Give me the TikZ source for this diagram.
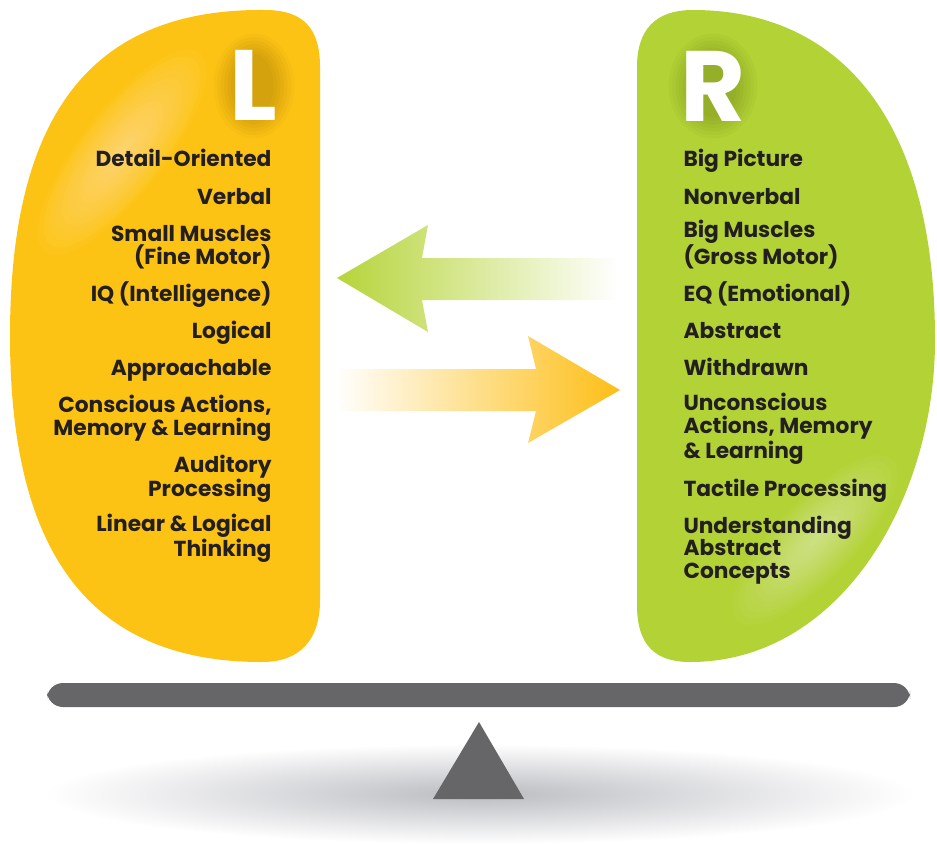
\documentclass[tikz,border=0pt]{standalone}
\usepackage{fontspec}
\setmainfont{Poppins}
\usepackage{tikz}
\tikzset{every picture/.style={line width=0.75pt}}
\definecolor{lobeL}{RGB}{253,195,20}
\definecolor{lobeR}{RGB}{179,210,53}
\definecolor{inkA}{RGB}{35,31,32}
\definecolor{beamA}{RGB}{102,102,104}
\definecolor{groundA}{RGB}{186,188,193}
\definecolor{arrowG}{RGB}{182,212,58}
\definecolor{arrowY}{RGB}{253,190,22}
\tikzset{
  traitL/.style={anchor=base east, align=right, inner sep=0pt, text=inkA, font=\fontsize{16.3}{16.9}\selectfont\bfseries},
  traitR/.style={anchor=base west, align=left, inner sep=0pt, text=inkA, font=\fontsize{16.3}{16.9}\selectfont\bfseries},
  sideletter/.style={anchor=base west, inner sep=0pt, text=white, font=\fontsize{75}{75}\selectfont\bfseries},
}

\begin{document}
\begin{tikzpicture}[x=0.75pt,y=0.75pt,yscale=-1,xscale=1]
\useasboundingbox (0,0) rectangle (937,844);
% left lobe
\fill[lobeL] (320,600) -- (320,67) .. controls (320,30) and (305,10) .. (265,10) .. controls (80,8) and (10,130) .. (10,336) .. controls (10,540) and (80,662) .. (262,662) .. controls (300,662) and (320,640) .. (320,600) -- cycle ;
\begin{scope}
\clip (320,600) -- (320,67) .. controls (320,30) and (305,10) .. (265,10) .. controls (80,8) and (10,130) .. (10,336) .. controls (10,540) and (80,662) .. (262,662) .. controls (300,662) and (320,640) .. (320,600) -- cycle ;
\foreach \k in {1,...,14}
  \fill[white, opacity=0.035, rotate around={-52:(122,152)}] (122,152) ellipse [x radius=9*\k, y radius=3*\k];
\foreach \k in {1,...,7}
  \fill[black, opacity=0.022] (254,86) ellipse [x radius=16+3.5*\k, y radius=28+3.5*\k];
\end{scope}
% right lobe
\fill[lobeR] (637,67) -- (637,605) .. controls (637,645) and (655,662) .. (690,662) .. controls (840,662) and (935,500) .. (935,340) .. controls (935,110) and (833,10) .. (693,10) .. controls (655,10) and (637,30) .. (637,67) -- cycle ;
\begin{scope}
\clip (637,67) -- (637,605) .. controls (637,645) and (655,662) .. (690,662) .. controls (840,662) and (935,500) .. (935,340) .. controls (935,110) and (833,10) .. (693,10) .. controls (655,10) and (637,30) .. (637,67) -- cycle ;
\foreach \k in {1,...,14}
  \fill[white, opacity=0.035, rotate around={-46:(815,540)}] (815,540) ellipse [x radius=8*\k, y radius=2.8*\k];
\foreach \k in {1,...,7}
  \fill[black, opacity=0.022] (713,86) ellipse [x radius=20+3.5*\k, y radius=28+3.5*\k];
\end{scope}
% letters
\draw (229,120) node (letL) [sideletter] {L};
\draw (680,121) node (letR) [sideletter] {R};
% left traits (anchored on the last line)
\draw (272,166) node (tl1) [traitL] {Detail-Oriented};
\draw (272,204) node (tl2) [traitL] {Verbal};
\draw (272,264.2) node (tl3) [traitL] {Small Muscles\\(Fine Motor)};
\draw (272,301.7) node (tl4) [traitL] {IQ (Intelligence)};
\draw (272,338.5) node (tl5) [traitL] {Logical};
\draw (272,375.7) node (tl6) [traitL] {Approachable};
\draw (272,435.5) node (tl7) [traitL] {Conscious Actions,\\Memory \& Learning};
\draw (272,496.5) node (tl8) [traitL] {Auditory\\Processing};
\draw (272,556.5) node (tl9) [traitL] {Linear \& Logical\\Thinking};
% right traits (anchored on the last line)
\draw (683,166) node (tr1) [traitR] {Big Picture};
\draw (683,204) node (tr2) [traitR] {Nonverbal};
\draw (683,264.2) node (tr3) [traitR] {Big Muscles\\(Gross Motor)};
\draw (683,301.7) node (tr4) [traitR] {EQ (Emotional)};
\draw (683,338.5) node (tr5) [traitR] {Abstract};
\draw (683,375.7) node (tr6) [traitR] {Withdrawn};
\draw (683,458) node (tr7) [traitR] {Unconscious\\Actions, Memory\\\& Learning};
\draw (683,496) node (tr8) [traitR] {Tactile Processing};
\draw (683,578.3) node (tr9) [traitR] {Understanding\\Abstract\\Concepts};
% arrows between the lobes
\shade[left color=arrowG, middle color=arrowG!55!white, right color=white] (618,258) -- (422,258) -- (428,225) -- (337,278) -- (428,332) -- (422,300) -- (618,300) -- cycle ;
\shade[left color=white, middle color=arrowY!45!white, right color=arrowY] (335,369) -- (536,369) -- (528,336) -- (620,390) -- (528,443) -- (536,411) -- (335,411) -- cycle ;
% seesaw
\shade[inner color=groundA, outer color=white] (480,794) ellipse [x radius=435, y radius=50];
\fill[beamA, rounded corners=12] (47,683) rectangle (910,707);
\fill[beamA] (479,722) -- (524,799) -- (433,799) -- cycle ;
\end{tikzpicture}
\end{document}
